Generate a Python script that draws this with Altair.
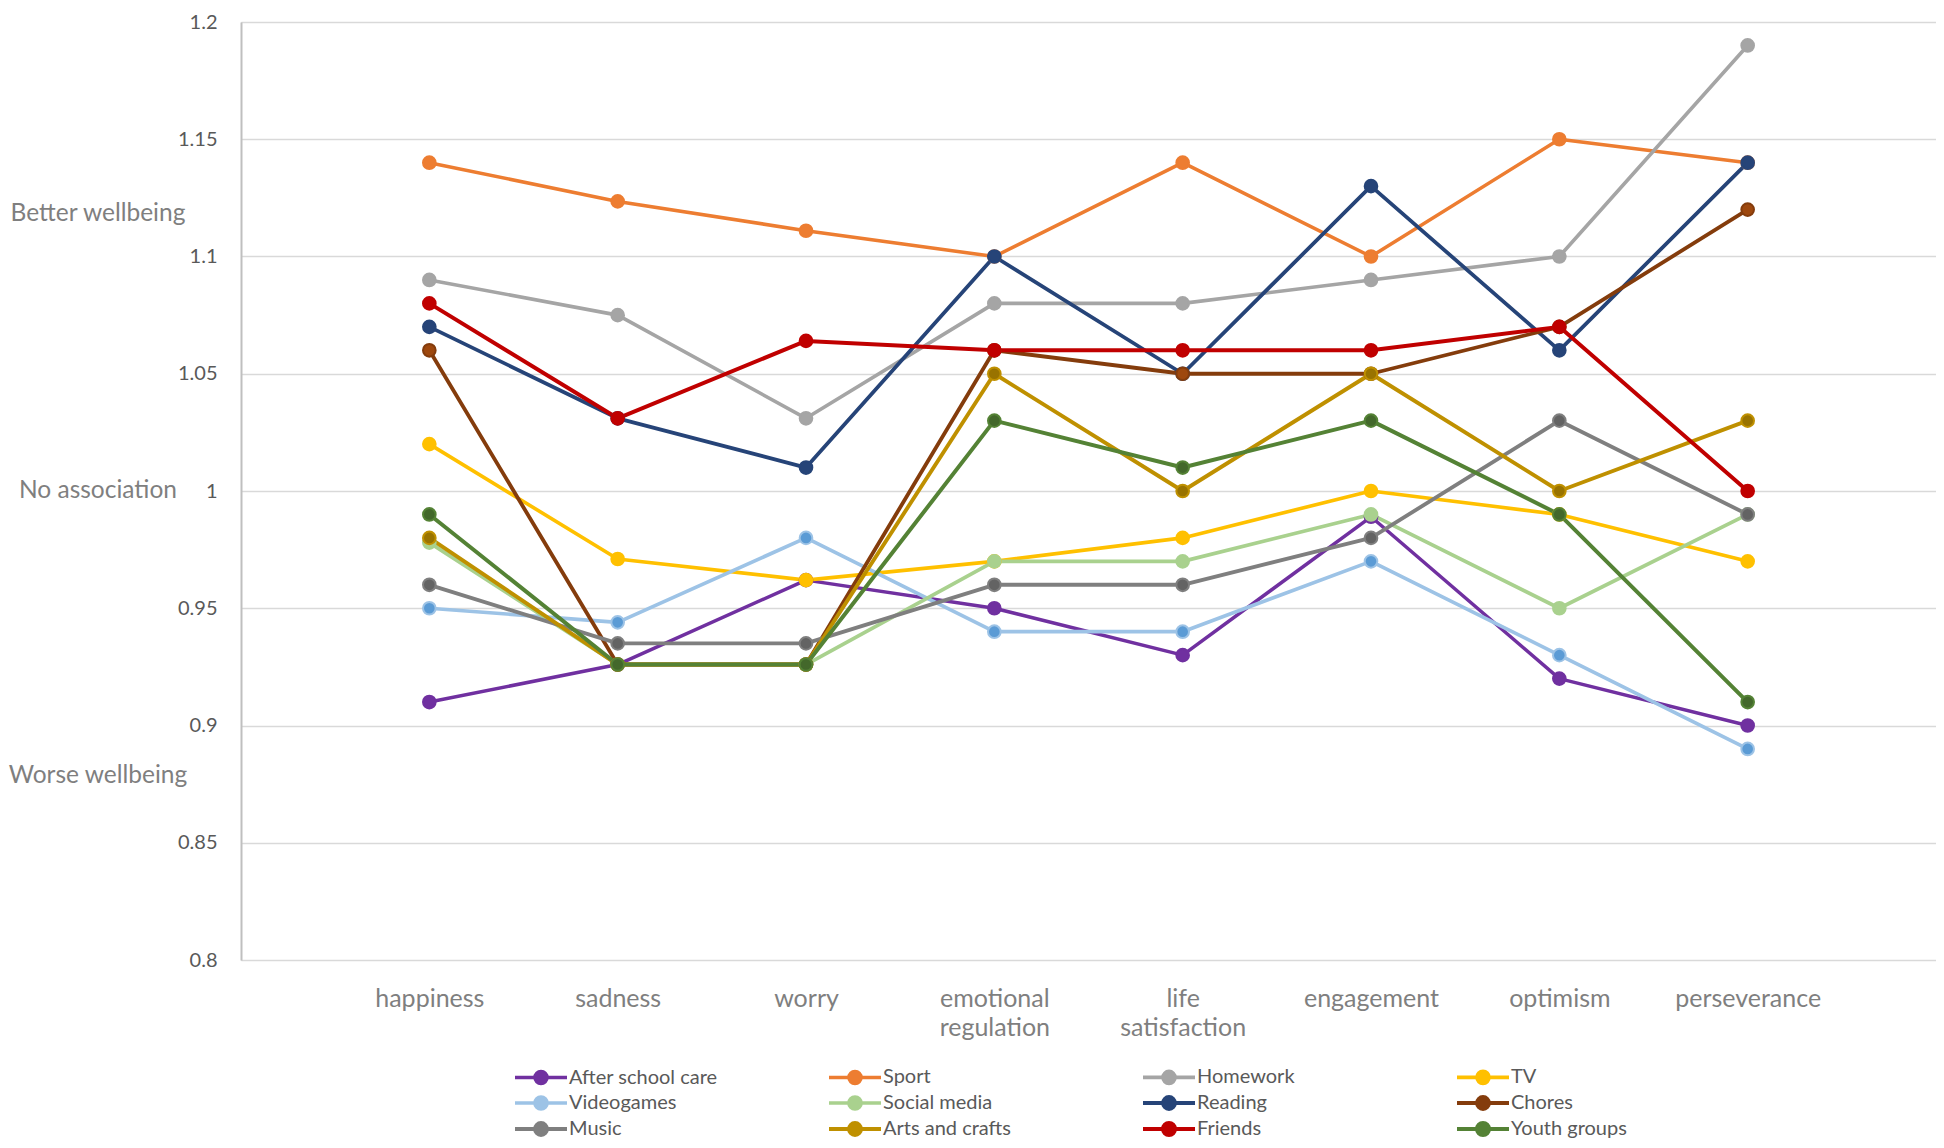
import altair as alt
import pandas as pd

categories = ["happiness", "sadness", "worry", "emotional regulation",
              "life satisfaction", "engagement", "optimism", "perseverance"]
series = ["After school care", "Sport", "Homework", "TV", "Videogames", "Social media",
          "Reading", "Chores", "Music", "Arts and crafts", "Friends", "Youth groups"]

after_school_care = [0.91, 0.926, 0.962, 0.95, 0.93, 0.989, 0.92, 0.90]
sport = [1.14, 1.1235, 1.111, 1.10, 1.14, 1.10, 1.15, 1.14]
homework = [1.09, 1.075, 1.031, 1.08, 1.08, 1.09, 1.10, 1.19]
tv = [1.02, 0.971, 0.962, 0.97, 0.98, 1.00, 0.99, 0.97]
videogames = [0.95, 0.944, 0.98, 0.94, 0.94, 0.97, 0.93, 0.89]
social_media = [0.978, 0.926, 0.926, 0.97, 0.97, 0.99, 0.95, 0.99]
reading = [1.07, 1.031, 1.01, 1.10, 1.05, 1.13, 1.06, 1.14]
chores = [1.06, 0.926, 0.926, 1.06, 1.05, 1.05, 1.07, 1.12]
music = [0.96, 0.935, 0.935, 0.96, 0.96, 0.98, 1.03, 0.99]
arts_and_crafts = [0.98, 0.926, 0.926, 1.05, 1.00, 1.05, 1.00, 1.03]
friends = [1.08, 1.031, 1.064, 1.06, 1.06, 1.06, 1.07, 1.00]
youth_groups = [0.99, 0.926, 0.926, 1.03, 1.01, 1.03, 0.99, 0.91]

y_ticks = [0.8, 0.85, 0.9, 0.95, 1.0, 1.05, 1.1, 1.15, 1.2]
annotations = ["Better wellbeing", "No association", "Worse wellbeing"]
annotation_values = [1.118, 1.0, 0.8785]

line_colors = ["#7030A0", "#ED7D31", "#A5A5A5", "#FFC000", "#9DC3E6", "#A9D18E",
               "#264478", "#843C0C", "#7F7F7F", "#BF9000", "#C00000", "#548235"]
marker_colors = ["#7030A0", "#ED7D31", "#A5A5A5", "#FFC000", "#5B9BD5", "#A9D18E",
                 "#264478", "#9E480E", "#636363", "#997300", "#C00000", "#43682B"]
line_widths = [3.5, 4, 4, 5, 6, 6, 5, 4.5, 4.5, 4.5, 5, 4.5]

all_values = [after_school_care, sport, homework, tv, videogames, social_media,
              reading, chores, music, arts_and_crafts, friends, youth_groups]
rows = []
for s, vals in zip(series, all_values):
    for c, v in zip(categories, vals):
        rows.append({"series": s, "category": c, "value": v})
df = pd.DataFrame(rows)
ann_df = pd.DataFrame({"label": annotations, "value": annotation_values})

x_enc = alt.X("category:N", sort=categories,
              scale=alt.Scale(domain=categories, padding=1),
              axis=alt.Axis(title=None, domain=False, ticks=False, tickSize=0,
                            labelFont="Lato", labelFontSize=25, labelColor="#7f7f7f",
                            labelAngle=0, labelPadding=26, labelBaseline="top",
                            labelLineHeight=29, labelExpr="split(datum.label, ' ')",
                            gridColor="#d9d9d9", gridWidth=1.5, labelOverlap=False))
y_enc = alt.Y("value:Q",
              scale=alt.Scale(domain=[0.8, 1.2], zero=False, nice=False),
              axis=alt.Axis(title=None, values=y_ticks, format=".3~g",
                            ticks=False, tickSize=0, labelPadding=24,
                            labelFont="Lato", labelFontSize=20, labelColor="#595959",
                            labelFlush=False, labelOverlap=False,
                            domainColor="#bfbfbf", domainWidth=2,
                            gridColor="#d9d9d9", gridWidth=1.5))

sym_path = ("M-2.6,0H2.6"
            "M0.6,0A0.6,0.6,0,1,1,-0.6,0A0.6,0.6,0,1,1,0.6,0"
            "M0.35,0A0.35,0.35,0,1,1,-0.35,0A0.35,0.35,0,1,1,0.35,0"
            "M0.1,0A0.1,0.1,0,1,1,-0.1,0A0.1,0.1,0,1,1,0.1,0")

legend = alt.Legend(title=None, orient="none", legendX=274, legendY=1043,
                    direction="horizontal",
                    columns=4, gridAlign="all", columnPadding=103, rowPadding=-2.5,
                    symbolType=sym_path, symbolSize=400, symbolStrokeWidth=4,
                    symbolOffset=14, labelOffset=16, padding=0,
                    labelFont="Lato", labelFontSize=20, labelColor="#595959",
                    labelLimit=400)

lines = alt.Chart(df).mark_line(strokeJoin="round", strokeCap="round").encode(
    x=x_enc, y=y_enc,
    color=alt.Color("series:N", scale=alt.Scale(domain=series, range=line_colors),
                    legend=legend),
    strokeWidth=alt.StrokeWidth("series:N",
                                scale=alt.Scale(domain=series, range=line_widths),
                                legend=None),
)

points = alt.Chart(df).mark_point(filled=True, size=160, opacity=1, strokeWidth=2).encode(
    x=x_enc, y=y_enc,
    fill=alt.Fill("series:N", scale=alt.Scale(domain=series, range=marker_colors),
                  legend=None),
    stroke=alt.Stroke("series:N", scale=alt.Scale(domain=series, range=line_colors),
                      legend=None),
)

ann = alt.Chart(ann_df).mark_text(font="Lato", fontSize=24.5, color="#7f7f7f",
                                  align="center", baseline="middle").encode(
    x=alt.value(-143),
    y=alt.Y("value:Q"),
    text="label:N",
)

chart = alt.layer(lines, points, ann).properties(
    width=1695, height=938,
    autosize=alt.AutoSizeParams(type="none"),
    padding={"left": 233, "top": 14, "right": 0, "bottom": 180},
).configure_view(stroke="#d9d9d9", strokeWidth=1.5).configure(background="white")

chart.save("out.html", embed_options={"renderer": "svg", "actions": False})
